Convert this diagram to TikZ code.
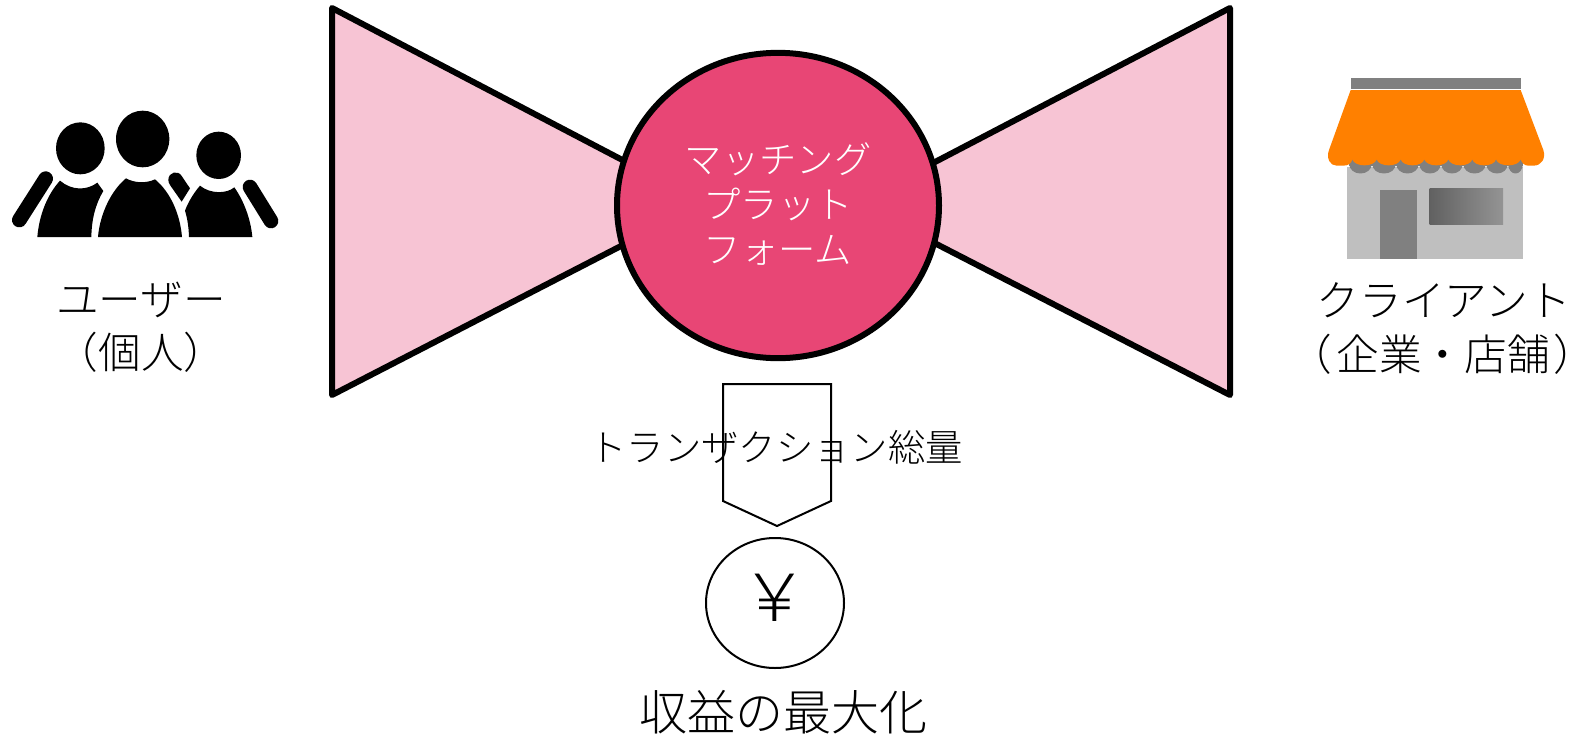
\documentclass[tikz,border=0pt]{standalone}
\usepackage{fontspec}
\setmainfont{Noto Sans CJK JP Light}
\newfontfamily\parenjp[Script=CJK,RawFeature=+palt]{Noto Sans CJK JP Light}
\definecolor{bowpink}{HTML}{F7C4D4}
\definecolor{hubpink}{HTML}{E84675}
\definecolor{awning}{HTML}{FF8000}
\definecolor{shopgrey}{HTML}{BFBFBF}
\definecolor{midgrey}{HTML}{808080}
\usetikzlibrary{shapes.geometric}
\tikzset{
  bow/.style={draw=black,fill=bowpink,line width=4.5pt,line join=round},
  hub/.style={draw=black,fill=hubpink,line width=4.5pt},
  thin outline/.style={draw=black,line width=1.5pt},
  label42/.style={font=\fontsize{32pt}{36pt}\selectfont,inner sep=0pt,anchor=center},
  label37/.style={font=\fontsize{28pt}{32pt}\selectfont,inner sep=0pt,anchor=center},
  label48/.style={font=\fontsize{36pt}{40pt}\selectfont,inner sep=0pt,anchor=center},
}
\newcommand{\halfparen}[1]{{\parenjp #1}}
\begin{document}
\begin{tikzpicture}[x=0.75pt,y=-0.75pt]
\useasboundingbox (0,0) rectangle (1578,736);
% bow
\draw[bow] (332,8) -- (332,395) -- (716,197) -- (716,209) -- cycle;
\draw[bow] (1230,8) -- (1230,395) -- (845,197) -- (845,209) -- cycle;
\node[hub,ellipse,inner sep=0pt,minimum width=241.5pt,minimum height=229pt] (hub) at (778,205.5) {};
\node[label37,text=white] (hubA) at (778,159) {マッチング};
\node[label37,text=white] (hubB) at (778,204) {プラット};
\node[label37,text=white] (hubC) at (778,250) {フォーム};
% pentagon arrow
\draw[thin outline,line join=miter] (723,384) -- (831,384) -- (831,501) -- (777,526) -- (723,501) -- cycle;
\node[label37] (volume) at (776,447) {トランザクション総量};
% yen
\node[thin outline,ellipse,inner sep=0pt,minimum width=103.5pt,minimum height=97.5pt] (yenring) at (775,603) {};
\node[inner sep=0pt,anchor=center,font=\fontsize{50pt}{54pt}\selectfont] (yen) at (775,598) {￥};
\node[label48] (profit) at (783,712) {収益の最大化};
% people
\begin{scope}[shift={(0,90)},x=0.25pt,y=-0.25pt]
\fill (241,175) ellipse [x radius=73,y radius=78];
\fill (428,147) ellipse [x radius=80,y radius=85];
\fill (656,196) ellipse [x radius=67,y radius=71];
\fill (112,441) .. controls (118,370) and (145,310) .. (180,272) .. controls (215,302) and (260,302) .. (292,278) -- (310,303) .. controls (285,345) and (275,390) .. (274,441) -- cycle;
\fill (294,441) .. controls (300,370) and (335,300) .. (378,265) .. controls (405,280) and (440,280) .. (465,268) .. controls (510,305) and (540,370) .. (546,441) -- cycle;
\fill (567,441) .. controls (566,410) and (562,385) .. (555,362) .. controls (565,335) and (582,308) .. (600,287) .. controls (630,312) and (680,312) .. (703,292) .. controls (730,330) and (752,385) .. (757,441) -- cycle;
\draw[line width=11pt,line cap=round] (58,390) -- (137,266);
\draw[line width=11pt,line cap=round] (750,291) -- (813,393);
\fill (505,270) .. controls (505,245) and (535,240) .. (545,258) -- (570,295) -- (545,335) -- (510,285) .. controls (507,280) and (505,275) .. (505,270) -- cycle;
\end{scope}
\node[label42] (userA) at (141,300) {ユーザー};
\node[label42] (userB) at (141,352) {（個人）};
% shop
\begin{scope}[shift={(1310,60)},x=0.25pt,y=-0.25pt]
\fill[shopgrey] (112,320) rectangle (640,597);
\fill[midgrey] (122,54) rectangle (632,87);
\fill[midgrey] (117,280) rectangle (640,318);
\foreach \a/\b in {117/187,187/257,257/327,327/392,392/460,460/527,527/595,595/640}{
  \fill[midgrey] (\a,310) .. controls (\a,350) and (\b,350) .. (\b,310) -- cycle;
}
\fill[midgrey] (209,390) rectangle (321,597);
\shade[left color=black!62,right color=black!42] (359,385) rectangle (579,493);
\fill[awning] (122,90) -- (632,90) -- (700,270) .. controls (708,295) and (695,317) .. (670,317) -- (655,317) .. controls (645,317) and (635,310) .. (632,298)
  .. controls (625,322) and (565,322) .. (558,298)
  .. controls (552,322) and (493,322) .. (487,298)
  .. controls (480,322) and (422,322) .. (415,298)
  .. controls (408,322) and (350,322) .. (343,298)
  .. controls (336,322) and (279,322) .. (272,298)
  .. controls (265,322) and (207,322) .. (200,298)
  .. controls (193,322) and (134,322) .. (127,298)
  .. controls (124,310) and (115,317) .. (100,317) -- (80,317) .. controls (60,317) and (48,295) .. (57,270) -- cycle;
\end{scope}
\node[label42] (clientA) at (1444,300) {クライアント};
\node[label42] (clientB) at (1443,354) {\halfparen{（}\kern.13em 企業・店舗\kern.13em\halfparen{）}};
\end{tikzpicture}
\end{document}
